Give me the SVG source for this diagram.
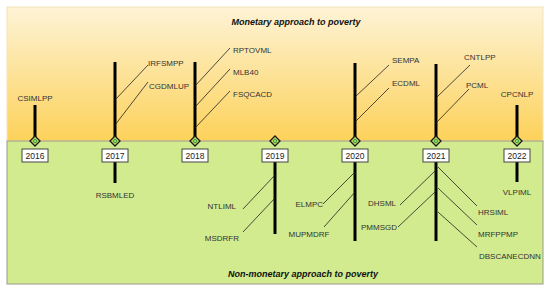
<svg xmlns="http://www.w3.org/2000/svg" width="550" height="291" viewBox="0 0 550 291">
<defs>
<linearGradient id="gTop" x1="0" y1="0" x2="0" y2="1">
<stop offset="0" stop-color="#fdf3d6"/>
<stop offset="1" stop-color="#fdd25a"/>
</linearGradient>
<g id="dia">
<path d="M0,-5 L5,0 L0,5 L-5,0 Z" fill="#c9d95a" stroke="#1a1a1a" stroke-width="1.3"/>
<circle r="2.2" fill="#3aa53a"/>
<path d="M-1.5,-1.5 L1.5,1.5 M-1.5,1.5 L1.5,-1.5" stroke="#d8f0a0" stroke-width="0.6"/>
</g>
</defs>
<style>
.lbl{font-family:"Liberation Sans",Arial,sans-serif;font-size:8px;fill:#333}
.yr{font-family:"Liberation Sans",Arial,sans-serif;font-size:8.5px;fill:#222;text-anchor:middle}
.ttl{font-family:"Liberation Sans",Arial,sans-serif;font-size:9px;font-weight:bold;font-style:italic;fill:#111;text-anchor:middle}
.stem{stroke:#000;stroke-width:3;fill:none}
.br{stroke:#222;stroke-width:0.8;fill:none}
.box{fill:#fff;stroke:#444;stroke-width:1}
.mid{text-anchor:middle}
.end{text-anchor:end}
</style>
<g id="background">
<rect x="7" y="7" width="536" height="134" fill="url(#gTop)" stroke="#f3e3b8" stroke-width="1"/>
<rect x="7" y="141" width="536" height="143" fill="#d2eb8e" stroke="#9a9a8a" stroke-width="1"/>
<text class="ttl" x="296" y="25">Monetary approach to poverty</text>
<text class="ttl" x="303" y="277">Non-monetary approach to poverty</text>
</g>
<g id="connectors">
<!-- top stems -->
<line class="stem" x1="35" y1="105" x2="35" y2="141"/>
<line class="stem" x1="115" y1="62" x2="115" y2="141"/>
<line class="stem" x1="195" y1="62" x2="195" y2="141"/>
<line class="stem" x1="355" y1="63" x2="355" y2="141"/>
<line class="stem" x1="436" y1="64" x2="436" y2="141"/>
<line class="stem" x1="517" y1="105" x2="517" y2="141"/>
<!-- bottom stems -->
<line class="stem" x1="115" y1="162" x2="115" y2="183"/>
<line class="stem" x1="275" y1="162" x2="275" y2="234"/>
<line class="stem" x1="355" y1="162" x2="355" y2="241"/>
<line class="stem" x1="436" y1="162" x2="436" y2="241"/>
<line class="stem" x1="517" y1="162" x2="517" y2="182"/>
<!-- top branches -->
<line class="br" x1="115" y1="100" x2="148" y2="65"/>
<line class="br" x1="115" y1="125" x2="148" y2="82"/>
<line class="br" x1="195" y1="86" x2="230" y2="48"/>
<line class="br" x1="195" y1="107" x2="230" y2="69"/>
<line class="br" x1="195" y1="128" x2="230" y2="91"/>
<line class="br" x1="355" y1="97" x2="389" y2="65"/>
<line class="br" x1="355" y1="122" x2="389" y2="88"/>
<line class="br" x1="436" y1="98" x2="470" y2="65"/>
<line class="br" x1="436" y1="123" x2="469" y2="89"/>
<!-- bottom branches -->
<line class="br" x1="275" y1="175" x2="243" y2="209"/>
<line class="br" x1="275" y1="198" x2="243" y2="232"/>
<line class="br" x1="355" y1="172" x2="323" y2="204"/>
<line class="br" x1="355" y1="192" x2="324" y2="227"/>
<line class="br" x1="436" y1="170" x2="400" y2="205"/>
<line class="br" x1="436" y1="191" x2="398" y2="227"/>
<line class="br" x1="438" y1="167" x2="477" y2="206"/>
<line class="br" x1="438" y1="188" x2="477" y2="225"/>
<line class="br" x1="438" y1="212" x2="477" y2="247"/>
</g>
<g id="y2016"><use href="#dia" x="35" y="141"/><rect class="box" x="22" y="149" width="26" height="13"/><text class="yr" x="35" y="158.5">2016</text></g>
<g id="y2017"><use href="#dia" x="115" y="141"/><rect class="box" x="102" y="149" width="26" height="13"/><text class="yr" x="115" y="158.5">2017</text></g>
<g id="y2018"><use href="#dia" x="195" y="141"/><rect class="box" x="182" y="149" width="26" height="13"/><text class="yr" x="195" y="158.5">2018</text></g>
<g id="y2019"><use href="#dia" x="275" y="141"/><rect class="box" x="262" y="149" width="26" height="13"/><text class="yr" x="275" y="158.5">2019</text></g>
<g id="y2020"><use href="#dia" x="355" y="141"/><rect class="box" x="342" y="149" width="26" height="13"/><text class="yr" x="355" y="158.5">2020</text></g>
<g id="y2021"><use href="#dia" x="436" y="141"/><rect class="box" x="423" y="149" width="26" height="13"/><text class="yr" x="436" y="158.5">2021</text></g>
<g id="y2022"><use href="#dia" x="517" y="141"/><rect class="box" x="504" y="149" width="26" height="13"/><text class="yr" x="517" y="158.5">2022</text></g>
<g id="labels-top">
<text class="lbl mid" x="35" y="101">CSIMLPP</text>
<text class="lbl" x="148" y="66">IRFSMPP</text>
<text class="lbl" x="149" y="89">CGDMLUP</text>
<text class="lbl" x="233" y="53">RPTOVML</text>
<text class="lbl" x="233" y="75">MLB40</text>
<text class="lbl" x="233" y="97">FSQCACD</text>
<text class="lbl" x="392" y="63">SEMPA</text>
<text class="lbl" x="392" y="86">ECDML</text>
<text class="lbl" x="464" y="60">CNTLPP</text>
<text class="lbl" x="466" y="88">PCML</text>
<text class="lbl mid" x="517" y="97">CPCNLP</text>
</g>
<g id="labels-bottom">
<text class="lbl mid" x="115" y="198">RSBMLED</text>
<text class="lbl end" x="236" y="209">NTLIML</text>
<text class="lbl end" x="239" y="241">MSDRFR</text>
<text class="lbl end" x="323" y="207">ELMPC</text>
<text class="lbl mid" x="309" y="237">MUPMDRF</text>
<text class="lbl end" x="396" y="206">DHSML</text>
<text class="lbl end" x="397" y="230">PMMSGD</text>
<text class="lbl" x="478" y="215">HRSIML</text>
<text class="lbl" x="478" y="237">MRFPPMP</text>
<text class="lbl" x="479" y="259">DBSCANECDNN</text>
<text class="lbl mid" x="517" y="195">VLPIML</text>
</g>
</svg>
